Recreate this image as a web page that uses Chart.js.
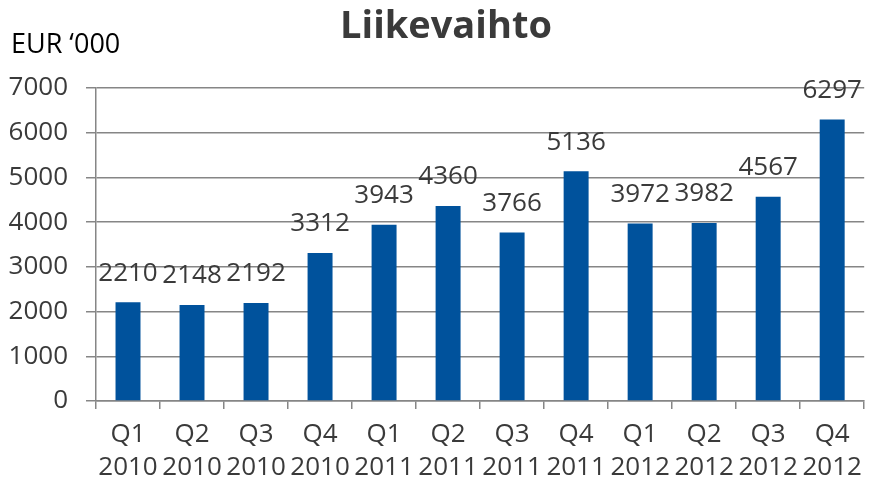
<!DOCTYPE html>
<html>
<head>
<meta charset="utf-8">
<script src="https://cdn.jsdelivr.net/npm/chart.js@4.4.1/dist/chart.umd.min.js"></script>
<style>
  html, body { margin: 0; padding: 0; background: #fff; }
  #wrap { width: 871px; height: 486px; position: relative; }
</style>
</head>
<body>
<div id="wrap"><canvas id="chart" width="871" height="486"></canvas></div>
<script>
    const QUARTERS = ['Q1', 'Q2', 'Q3', 'Q4', 'Q1', 'Q2', 'Q3', 'Q4', 'Q1', 'Q2', 'Q3', 'Q4'];
    const YEARS = ['2010', '2010', '2010', '2010', '2011', '2011', '2011', '2011', '2012', '2012', '2012', '2012'];
    const REVENUE = [2210, 2148, 2192, 3312, 3943, 4360, 3766, 5136, 3972, 3982, 4567, 6297];
    const Y_TICKS = [0, 1000, 2000, 3000, 4000, 5000, 6000, 7000];

    const FONT = "'Open Sans', sans-serif";
    const TEXT = '#3a3a3a';
    const GRID = '#868686';

    const headerPlugin = {
      id: 'header',
      afterDraw(chart) {
        const ctx = chart.ctx;
        ctx.save();
        ctx.fillStyle = TEXT;
        ctx.textBaseline = 'middle';
        ctx.textAlign = 'center';
        ctx.font = "bold 38px " + FONT;
        ctx.fillText('Liikevaihto', 446, 27);
        ctx.textAlign = 'left';
        ctx.fillStyle = '#000';
        ctx.font = "27px " + FONT;
        ctx.fillText('EUR \u2018000', 11, 45);
        ctx.restore();
      }
    };

    const valueLabels = {
      id: 'valueLabels',
      afterDatasetsDraw(chart) {
        const ctx = chart.ctx;
        const meta = chart.getDatasetMeta(0);
        ctx.save();
        ctx.fillStyle = TEXT;
        ctx.font = "26px " + FONT;
        ctx.textAlign = 'center';
        ctx.textBaseline = 'middle';
        meta.data.forEach((bar, i) => {
          ctx.fillText(String(REVENUE[i]), bar.x, bar.y - 29);
        });
        ctx.restore();
      }
    };

    function initChart() {
      const ctx = document.getElementById('chart').getContext('2d');
      new Chart(ctx, {
        type: 'bar',
        data: {
          labels: QUARTERS.map((q, i) => [q, YEARS[i]]),
          datasets: [{
            data: REVENUE,
            backgroundColor: '#00529C',
            borderWidth: 0,
            barPercentage: 0.39,
            categoryPercentage: 1
          }]
        },
        options: {
          responsive: false,
          animation: false,
          layout: { padding: { top: 88, right: 2, left: 0, bottom: 0 } },
          plugins: { legend: { display: false }, tooltip: { enabled: false } },
          scales: {
            x: {
              offset: true,
              grid: {
                offset: true,
                drawOnChartArea: false,
                color: GRID,
                lineWidth: 1.5,
                tickLength: 8
              },
              border: { color: GRID, width: 1.5 },
              ticks: {
                color: TEXT,
                font: { family: FONT, size: 26, lineHeight: 1.27 },
                padding: 9,
                maxRotation: 0,
                autoSkip: false
              },
              afterFit(scale) { scale.height = 85; }
            },
            y: {
              min: 0,
              max: 7000,
              afterBuildTicks(scale) { scale.ticks = Y_TICKS.map(v => ({ value: v })); },
              grid: { color: GRID, lineWidth: 1.5, tickLength: 10 },
              border: { color: GRID, width: 1.5 },
              ticks: {
                color: TEXT,
                font: { family: FONT, size: 26 },
                padding: 18,
                callback: (v) => String(v)
              },
              afterFit(scale) { scale.width = 96; }
            }
          }
        },
        plugins: [headerPlugin, valueLabels]
      });
    }

    document.addEventListener('DOMContentLoaded', initChart);
</script>
</body>
</html>
